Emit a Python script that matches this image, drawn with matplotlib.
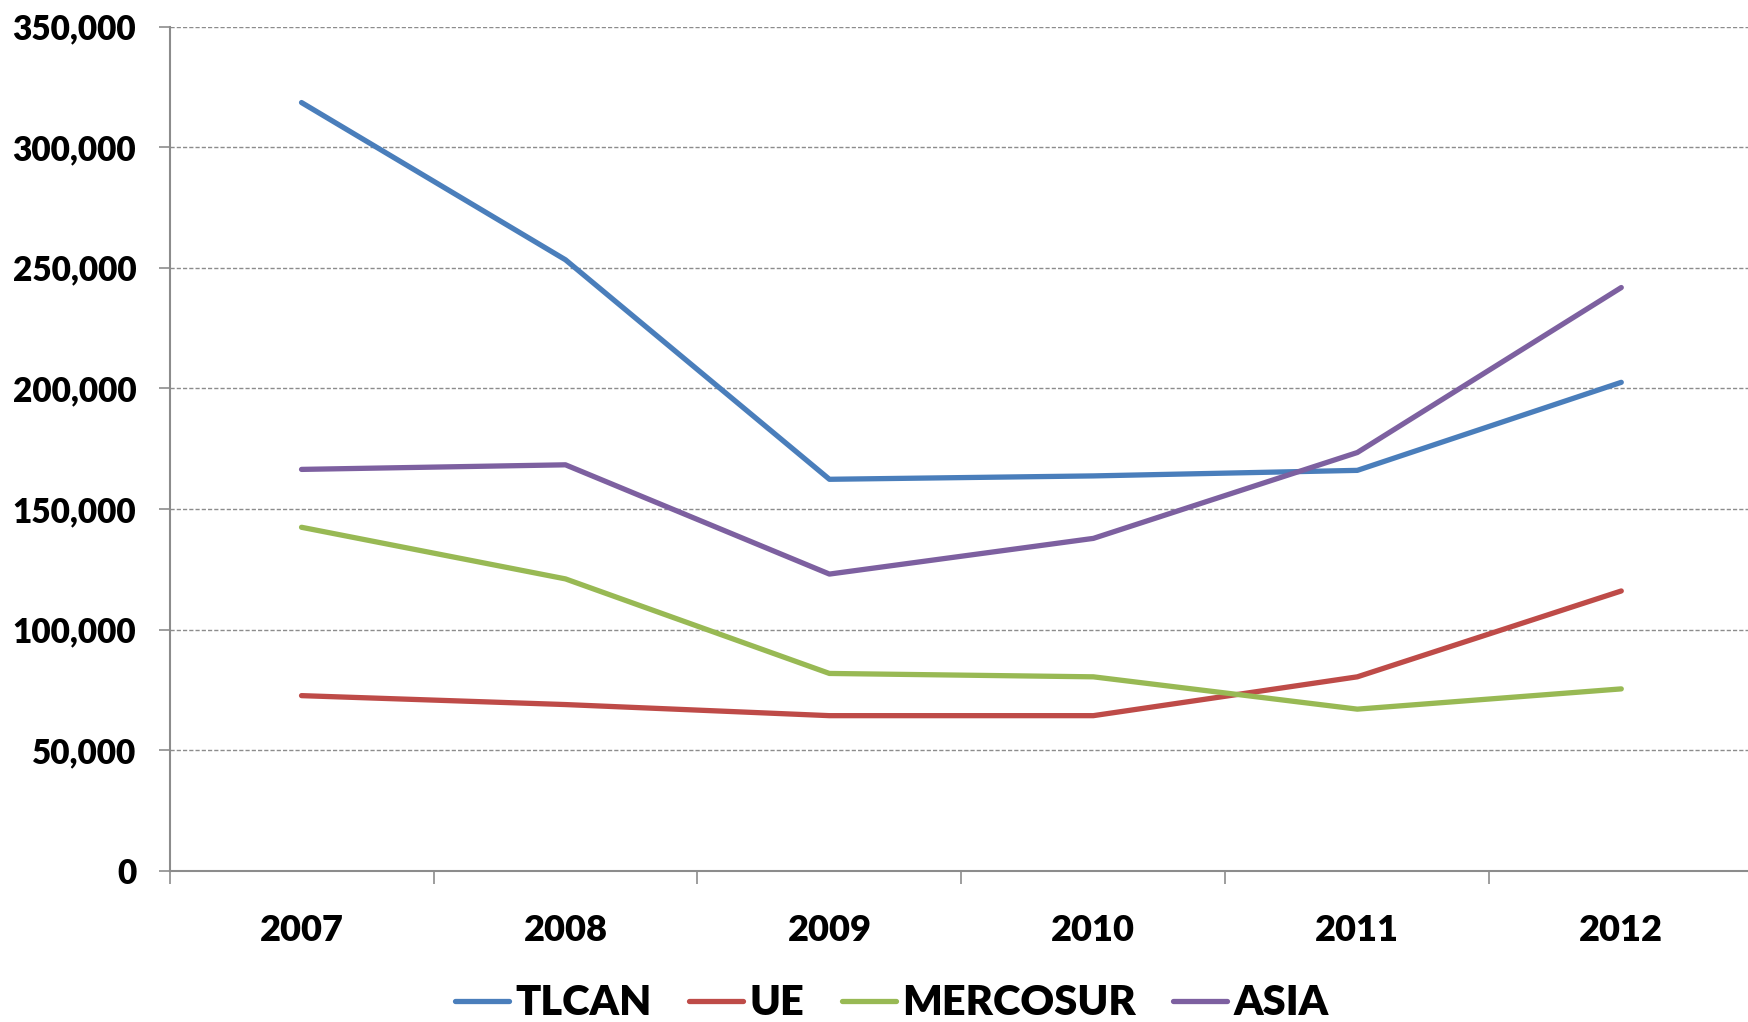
import matplotlib
matplotlib.use("Agg")
import matplotlib.pyplot as plt
from matplotlib.ticker import FuncFormatter, FixedLocator
import numpy as np

years = ["2007", "2008", "2009", "2010", "2011", "2012"]
tlcan = [318500, 253300, 162300, 163700, 166000, 202500]
ue = [72600, 68900, 64300, 64300, 80400, 116000]
mercosur = [142400, 121000, 81800, 80400, 67000, 75400]
asia = [166400, 168300, 123000, 137800, 173400, 241800]

series = [("TLCAN", tlcan, "#4A7EBB"),
          ("UE", ue, "#BE4B48"),
          ("MERCOSUR", mercosur, "#98B954"),
          ("ASIA", asia, "#7D60A0")]

plt.rcParams['font.family'] = ['Lato', 'DejaVu Sans']
plt.rcParams['font.weight'] = 'heavy'

fig = plt.figure(figsize=(17.48, 10.22), dpi=100)
ax = fig.add_axes([0.097, 0.148, 0.906, 0.826])

x = np.arange(len(years))
for name, vals, col in series:
    ax.plot(x, vals, color=col, linewidth=3.8, label=name, solid_capstyle='round')

ax.set_xlim(-0.5, len(years) - 0.5)
ax.set_ylim(0, 350000)
ax.set_yticks(np.arange(0, 350001, 50000))
ax.yaxis.set_major_formatter(FuncFormatter(lambda v, p: f"{int(v):,}"))
ax.grid(axis='y', linestyle=(0, (3, 1.5)), color='#8c8c8c', linewidth=1.0)
ax.set_axisbelow(True)

ax.set_xticks(x)
ax.set_xticklabels(years)
ax.xaxis.set_minor_locator(FixedLocator(np.arange(-0.5, len(years), 1.0)))
ax.tick_params(axis='x', which='major', length=0, pad=31, labelsize=26)
ax.tick_params(axis='x', which='minor', length=9.5, color='#8c8c8c', width=1.2)
ax.tick_params(axis='y', length=8, color='#8c8c8c', width=1.2, labelsize=24, pad=16)

for s in ['top', 'right']:
    ax.spines[s].set_visible(False)
for s in ['left', 'bottom']:
    ax.spines[s].set_color('#8c8c8c')
    ax.spines[s].set_linewidth(1.5)

for lab in ax.get_xticklabels() + ax.get_yticklabels():
    lab.set_fontweight('heavy')

# legend sits just under the year labels, near the bottom edge
leg = ax.legend(loc='center', bbox_to_anchor=(0.456, -0.157), ncol=4,
                frameon=False, handlelength=1.3, handletextpad=0.15,
                columnspacing=0.9, prop={'weight': 'heavy', 'size': 30})

fig.savefig("out.png", dpi=100)
